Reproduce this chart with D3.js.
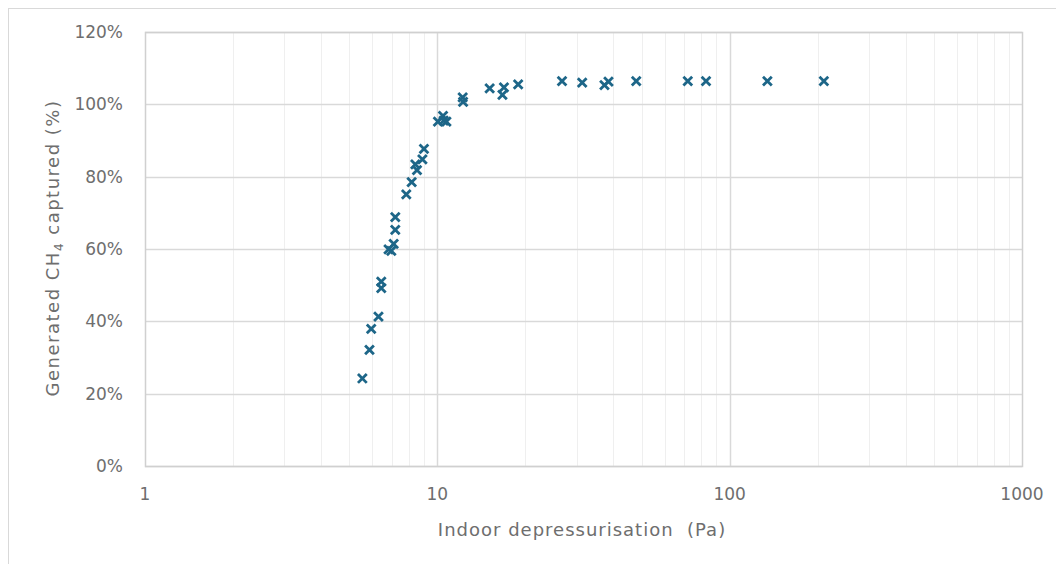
<!DOCTYPE html>
<html>
<head>
<meta charset="utf-8">
<script src="https://cdn.jsdelivr.net/npm/d3@7"></script>
<style>
  body { margin: 0; background: #fff; }
  svg text { font-family: "DejaVu Sans", sans-serif; fill: #6e6e6e; }
</style>
</head>
<body>
<svg id="chart" width="1056" height="564"></svg>
<script>
// depressurisation (Pa) vs generated CH4 captured (%)
const pressure = [5.54, 5.86, 5.94, 6.29, 6.43, 6.43, 6.81, 6.96, 7.09, 7.18, 7.18,
  7.83, 8.17, 8.41, 8.52, 8.89, 9.00, 10.05, 10.46, 10.51, 10.74, 12.21, 12.25,
  15.1, 16.9, 16.7, 18.9, 26.7, 31.3, 37.3, 38.5, 47.9, 71.9, 83.0, 134.6, 210];
const captured = [24.2, 32.1, 37.9, 41.3, 51.0, 49.2, 59.9, 59.5, 61.4, 65.3, 68.8,
  75.1, 78.5, 83.4, 81.8, 84.8, 87.7, 95.2, 96.8, 95.5, 95.2, 101.9, 100.7,
  104.4, 104.7, 102.6, 105.5, 106.4, 106.0, 105.3, 106.3, 106.4, 106.4, 106.4, 106.4, 106.4];
const yTicks = [0, 20, 40, 60, 80, 100, 120];
const xTicks = [1, 10, 100, 1000];

const svg = d3.select('#chart');
const margin = { left: 145, right: 1022, top: 32, bottom: 466 };

// outer frame of the chart area
svg.append('rect')
  .attr('x', 8.5).attr('y', 8.5)
  .attr('width', 1100).attr('height', 600)
  .attr('fill', 'none').attr('stroke', '#d9d9d9');

const x = d3.scaleLog().domain([1, 1000]).range([margin.left, margin.right]);
const y = d3.scaleLinear().domain([0, 120]).range([margin.bottom, margin.top]);

// minor vertical gridlines
const minor = [];
[1, 10, 100].forEach(d => { for (let k = 2; k <= 9; k++) minor.push(d * k); });
svg.append('g').selectAll('line').data(minor).enter().append('line')
  .attr('x1', d => Math.round(x(d)) + 0.5).attr('x2', d => Math.round(x(d)) + 0.5)
  .attr('y1', margin.top).attr('y2', margin.bottom)
  .attr('stroke', '#efefef');

// major gridlines
svg.append('g').selectAll('line').data([10, 100]).enter().append('line')
  .attr('x1', d => Math.round(x(d)) + 0.5).attr('x2', d => Math.round(x(d)) + 0.5)
  .attr('y1', margin.top).attr('y2', margin.bottom)
  .attr('stroke', '#d9d9d9').attr('stroke-width', 1.5);

svg.append('g').selectAll('line').data(yTicks).enter().append('line')
  .attr('x1', margin.left).attr('x2', margin.right)
  .attr('y1', d => Math.round(y(d)) + 0.5).attr('y2', d => Math.round(y(d)) + 0.5)
  .attr('stroke', '#d9d9d9').attr('stroke-width', 1.5);

// plot frame
svg.append('rect')
  .attr('x', margin.left + 0.5).attr('y', margin.top + 0.5)
  .attr('width', margin.right - margin.left).attr('height', margin.bottom - margin.top)
  .attr('fill', 'none').attr('stroke', '#d0d0d0').attr('stroke-width', 1.5);

// tick labels
svg.append('g').selectAll('text').data(yTicks).enter().append('text')
  .attr('x', 123).attr('y', d => y(d) + 6)
  .attr('text-anchor', 'end').attr('font-size', '17px')
  .text(d => d + '%');

svg.append('g').selectAll('text').data(xTicks).enter().append('text')
  .attr('x', d => x(d)).attr('y', 500)
  .attr('text-anchor', 'middle').attr('font-size', '17px')
  .text(d => d);

// axis titles
svg.append('text')
  .attr('x', 582).attr('y', 536)
  .attr('text-anchor', 'middle').attr('font-size', '18px')
  .attr('letter-spacing', '1px')
  .text('Indoor depressurisation\u00a0 (Pa)');

const yTitle = svg.append('text')
  .attr('transform', 'translate(59, 248) rotate(-90)')
  .attr('text-anchor', 'middle').attr('font-size', '18px')
  .attr('letter-spacing', '1.5px');
yTitle.append('tspan').text('Generated CH');
yTitle.append('tspan').attr('font-size', '12px').attr('dy', 4).text('4');
yTitle.append('tspan').attr('dy', -4).text(' captured (%)');

// markers
const pts = pressure.map((p, i) => ({ p, c: captured[i] }));
const s = 3.4;
svg.append('g').selectAll('path').data(pts).enter().append('path')
  .attr('d', d => {
    const cx = x(d.p), cy = y(d.c);
    return `M${cx - s},${cy - s}L${cx + s},${cy + s}M${cx - s},${cy + s}L${cx + s},${cy - s}`;
  })
  .attr('stroke', '#1d6688').attr('stroke-width', 2.8)
  .attr('stroke-linecap', 'square').attr('fill', 'none');
</script>
</body>
</html>
